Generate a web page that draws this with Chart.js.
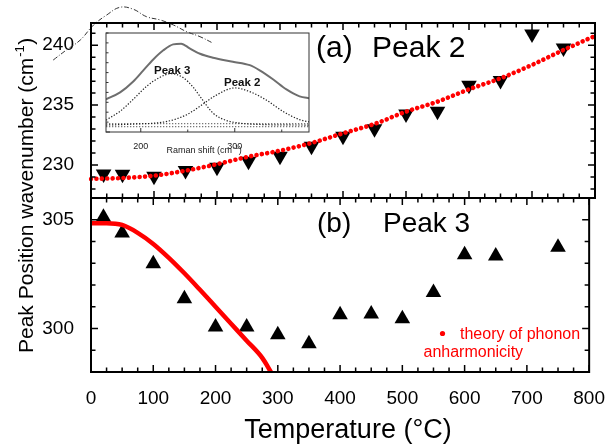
<!DOCTYPE html>
<html>
<head>
<meta charset="utf-8">
<title>Peak position vs temperature</title>
<script src="https://cdn.jsdelivr.net/npm/chart.js@4.4.1/dist/chart.umd.min.js"></script>
<style>
  html, body { margin: 0; padding: 0; background: #fff; }
  #figure { position: relative; width: 612px; height: 445px; overflow: hidden; }
  #figure canvas { position: absolute; left: 0; top: 0; }
</style>
</head>
<body>
<div id="figure">
  <canvas id="peak2Chart" width="612" height="445"></canvas>
  <canvas id="peak3Chart" width="612" height="445"></canvas>
  <canvas id="insetChart" width="612" height="445"></canvas>
</div>
<script>
// -----------------------------
// Data
// -----------------------------
const temps = [20, 50, 100, 150, 200, 250, 300, 350, 400, 450, 500, 550, 600, 650, 700, 750];
const peak2 = [229.26, 229.24, 229.06, 229.54, 229.81, 230.32, 230.73, 231.57, 232.4, 233.03, 234.26, 234.48, 236.65, 237.05, 240.93, 239.77];

const peak3Temps = [20, 50, 100, 150, 200, 250, 300, 350, 400, 450, 500, 550, 600, 650, 750];
const peak3 = [305.12, 304.39, 302.98, 301.37, 300.07, 300.07, 299.71, 299.3, 300.63, 300.67, 300.45, 301.65, 303.39, 303.33, 303.73];

// theory of phonon anharmonicity
const theory2Temps = [0, 50, 100, 150, 200, 250, 300, 350, 400, 450, 500, 550, 600, 650, 700, 750, 800];
const theory2 = [228.84, 228.92, 229.11, 229.53, 230.07, 230.7, 231.2, 231.84, 232.65, 233.43, 234.45, 235.29, 236.32, 237.24, 238.35, 239.6, 240.77];
const theory3Temps = [0, 25, 50, 75, 100, 125, 150, 175, 200, 225, 250, 275, 290];
const theory3 = [304.84, 304.84, 304.76, 304.4, 303.89, 303.25, 302.54, 301.78, 301.0, 300.22, 299.44, 298.65, 297.95];

// dash-dot trace spilling out over the top of panel (a)
const strayTemps = [-60, -39, -17, 4, 25, 46, 67, 88, 110, 131, 152, 173, 194];
const strayValues = [238.76, 239.6, 240.43, 241.68, 242.52, 243.16, 243.0, 242.38, 242.1, 241.68, 241.12, 240.71, 240.16];

// inset: Raman spectrum + fitted peaks (intensity, arbitrary 0-100)
const ramanShift = [163, 178, 192, 202.5, 213, 224, 234.5, 243, 252, 263, 277, 298, 316, 327, 341, 355, 369, 380];
const spectrum = [33, 40, 51, 62, 73, 82.5, 88.5, 89.2, 84.5, 79, 75, 71, 67.5, 62, 53, 43, 36, 34];
const fit3Shift = [163, 178, 192, 206, 220, 232, 245, 256, 263, 277, 290, 305, 330, 380];
const fit3 = [12, 21, 33, 46, 55, 59, 55, 45, 36, 19, 12, 9, 7.5, 7];
const fit2Shift = [163, 192, 227, 249, 263, 280, 300, 318, 334, 351, 369, 380];
const fit2 = [7, 8, 10.5, 17.5, 26, 37, 44.5, 40, 32, 21, 12.5, 10];
const baseShift = [163, 380];
const baseline1 = [8.5, 8.5];
const baseline2 = [5.5, 5.5];

// tick labels
const tempLabels = [0, 100, 200, 300, 400, 500, 600, 700, 800];
const peak2Labels = [230, 235, 240];
const peak3Labels = [300, 305];
const ramanLabels = [200, 300];

// -----------------------------
// Helpers
// -----------------------------
const FONT = "'Liberation Sans', Arial, Helvetica, sans-serif";
const RED = "#ff0000";
Chart.defaults.font.family = FONT;
Chart.defaults.color = "#000";

const pts = (xs, ys) => xs.map((x, i) => ({ x, y: ys[i] }));
const near = (v, step) => Math.abs(v / step - Math.round(v / step)) < 1e-6;
const labelFrom = list => v => (list.some(l => Math.abs(l - v) < 1e-6) ? v : "");

// box around the plot area with inward ticks
const framePlugin = {
  id: "frame",
  afterDraw(chart, args, o) {
    const { ctx, chartArea: a } = chart;
    const xs = chart.scales.x, ys = chart.scales.y;
    ctx.save();
    ctx.strokeStyle = o.color;
    ctx.lineWidth = o.tickWidth;
    ctx.beginPath();
    xs.ticks.forEach(t => {
      if (!near(t.value, o.xStep)) return;
      const px = xs.getPixelForValue(t.value);
      const len = near(t.value, o.xMajor) ? o.major : o.minor;
      ctx.moveTo(px, a.bottom); ctx.lineTo(px, a.bottom - len);
      if (o.sides.includes("t")) { ctx.moveTo(px, a.top); ctx.lineTo(px, a.top + len); }
    });
    ys.ticks.forEach(t => {
      if (!near(t.value, o.yStep)) return;
      const py = ys.getPixelForValue(t.value);
      const len = near(t.value, o.yMajor) ? o.major : o.minor;
      ctx.moveTo(a.left, py); ctx.lineTo(a.left + len, py);
      if (o.sides.includes("r")) { ctx.moveTo(a.right, py); ctx.lineTo(a.right - len, py); }
    });
    ctx.stroke();
    ctx.lineWidth = o.lineWidth;
    ctx.strokeRect(a.left, a.top, a.right - a.left, a.bottom - a.top);
    ctx.restore();
  }
};

function textPlugin(draw) {
  return { id: "texts", afterDraw(chart) { const c = chart.ctx; c.save(); draw(c); c.restore(); } };
}

// "...(cm" + superscript "-1" + ")"
function cmInverse(ctx, base, x, y, size, supSize, rise) {
  ctx.font = `${size}px ${FONT}`;
  ctx.fillText(base, x, y);
  let w = ctx.measureText(base).width;
  ctx.font = `${supSize}px ${FONT}`;
  ctx.fillText("-1", x + w + 1, y - rise);
  w += ctx.measureText("-1").width + 1.5;
  ctx.font = `${size}px ${FONT}`;
  ctx.fillText(")", x + w, y);
}

const hidden = { grid: { display: false }, border: { display: false } };

// -----------------------------
// (a) Peak 2
// -----------------------------
new Chart(document.getElementById("peak2Chart"), {
  type: "scatter",
  data: {
    datasets: [
      {
        data: pts(theory2Temps, theory2), showLine: true, borderColor: RED, borderWidth: 4.6,
        borderDash: [0.01, 5.4], borderCapStyle: "round", pointRadius: 0,
        tension: 0.4, cubicInterpolationMode: "monotone"
      },
      {
        data: pts(temps, peak2), pointStyle: "triangle", rotation: 180, pointRadius: 9,
        backgroundColor: "#000", borderWidth: 0
      },
      {
        data: pts(strayTemps, strayValues), showLine: true, borderColor: "#333", borderWidth: 1,
        borderDash: [5, 2, 1, 2], pointRadius: 0, tension: 0.4, clip: false
      }
    ]
  },
  options: {
    responsive: false, animation: false, events: [],
    layout: { padding: { left: 41, right: 17, top: 23, bottom: 247 } },
    plugins: {
      legend: { display: false }, tooltip: { enabled: false },
      frame: { color: "#000", lineWidth: 2, tickWidth: 1.5, major: 7, minor: 4.5,
               xStep: 25, xMajor: 100, yStep: 1, yMajor: 5, sides: "tblr" }
    },
    scales: {
      x: {
        type: "linear", ...hidden,
        afterDataLimits: s => { s.min = 0; s.max = 800; },
        ticks: { display: false, stepSize: 25, autoSkip: false },
        afterFit: s => { s.height = 0; }
      },
      y: {
        min: 227.25, max: 241.85, ...hidden,
        ticks: { stepSize: 1, includeBounds: false, autoSkip: false, padding: 9,
                 font: { size: 19 }, callback: labelFrom(peak2Labels) },
        afterFit: s => { s.width = 50; }
      }
    }
  },
  plugins: [framePlugin, textPlugin(ctx => {
    ctx.fillStyle = "#000";
    ctx.textBaseline = "alphabetic";
    ctx.font = `30px ${FONT}`;
    ctx.fillText("(a)", 316, 57);
    ctx.fillText("Peak 2", 372, 57);
  })]
});

// -----------------------------
// (b) Peak 3
// -----------------------------
new Chart(document.getElementById("peak3Chart"), {
  type: "scatter",
  data: {
    datasets: [
      {
        data: pts(theory3Temps, theory3), showLine: true, borderColor: RED, borderWidth: 4.5,
        pointRadius: 0, tension: 0.4, cubicInterpolationMode: "monotone"
      },
      {
        data: pts(peak3Temps, peak3), pointStyle: "triangle", pointRadius: 9,
        backgroundColor: "#000", borderWidth: 0
      }
    ]
  },
  options: {
    responsive: false, animation: false, events: [],
    layout: { padding: { left: 41, right: 17, top: 198, bottom: 0 } },
    plugins: {
      legend: { display: false }, tooltip: { enabled: false },
      frame: { color: "#000", lineWidth: 2, tickWidth: 1.5, major: 7, minor: 4.5,
               xStep: 25, xMajor: 100, yStep: 1, yMajor: 5, sides: "tblr" }
    },
    scales: {
      x: {
        type: "linear", min: 0, max: 800, ...hidden,
        ticks: { stepSize: 25, autoSkip: false, maxRotation: 0, minRotation: 0, padding: 7,
                 font: { size: 19 }, callback: labelFrom(tempLabels) },
        afterFit: s => { s.height = 73; }
      },
      y: {
        min: 298, max: 306, ...hidden,
        ticks: { stepSize: 1, includeBounds: false, autoSkip: false, padding: 9,
                 font: { size: 19 }, callback: labelFrom(peak3Labels) },
        afterFit: s => { s.width = 50; }
      }
    }
  },
  plugins: [framePlugin, textPlugin(ctx => {
    ctx.fillStyle = "#000";
    ctx.textBaseline = "alphabetic";
    ctx.font = `28px ${FONT}`;
    ctx.fillText("(b)", 317, 232);
    ctx.fillText("Peak 3", 383, 232);

    // axis titles
    ctx.textAlign = "center";
    ctx.font = `27px ${FONT}`;
    ctx.fillText("Temperature (°C)", 348, 438);
    ctx.textAlign = "left";
    ctx.save();
    ctx.translate(33, 353);
    ctx.rotate(-Math.PI / 2);
    cmInverse(ctx, "Peak Position wavenumber (cm", 0, 0, 21, 13, 9);
    ctx.restore();

    // legend
    ctx.fillStyle = RED;
    ctx.beginPath();
    ctx.arc(442.5, 333.5, 2.6, 0, Math.PI * 2);
    ctx.fill();
    ctx.font = `16px ${FONT}`;
    ctx.fillText("theory of phonon", 460, 338.5);
    ctx.fillText("anharmonicity", 423.5, 356.5);
  })]
});

// -----------------------------
// Inset: Raman spectrum
// -----------------------------
const dotted = color => ({
  showLine: true, borderColor: color, borderWidth: 1.2, borderDash: [1.3, 1.7],
  pointRadius: 0, tension: 0.4, cubicInterpolationMode: "monotone"
});

new Chart(document.getElementById("insetChart"), {
  type: "scatter",
  data: {
    datasets: [
      { data: pts(ramanShift, spectrum), showLine: true, borderColor: "#6e6e6e", borderWidth: 2,
        pointRadius: 0, tension: 0.4, cubicInterpolationMode: "monotone" },
      { data: pts(fit3Shift, fit3), ...dotted("#222") },
      { data: pts(fit2Shift, fit2), ...dotted("#222") },
      { data: pts(baseShift, baseline1), ...dotted("#777") },
      { data: pts(baseShift, baseline2), ...dotted("#777") }
    ]
  },
  options: {
    responsive: false, animation: false, events: [],
    layout: { padding: { left: 106, right: 303, top: 33, bottom: 288 } },
    plugins: {
      legend: { display: false }, tooltip: { enabled: false },
      frame: { color: "#333", lineWidth: 1, tickWidth: 1, major: 4, minor: 2.5,
               xStep: 50, xMajor: 100, yStep: 10, yMajor: 1000, sides: "bl" }
    },
    scales: {
      x: {
        type: "linear", min: 163, max: 379, ...hidden,
        ticks: { stepSize: 50, includeBounds: false, autoSkip: false, maxRotation: 0, minRotation: 0,
                 padding: 1, color: "#222", font: { size: 9 }, callback: labelFrom(ramanLabels) },
        afterFit: s => { s.height = 25; }
      },
      y: {
        min: 0, max: 100, ...hidden,
        ticks: { display: false, stepSize: 10 },
        afterFit: s => { s.width = 0; }
      }
    }
  },
  plugins: [framePlugin, textPlugin(ctx => {
    ctx.fillStyle = "#111";
    ctx.textBaseline = "alphabetic";
    ctx.font = `bold 11.5px ${FONT}`;
    ctx.fillText("Peak 3", 154, 74);
    ctx.fillText("Peak 2", 224, 86);
    ctx.fillStyle = "#222";
    cmInverse(ctx, "Raman shift (cm", 166.5, 152.5, 9, 6, 3.5);
  })]
});
</script>
</body>
</html>
